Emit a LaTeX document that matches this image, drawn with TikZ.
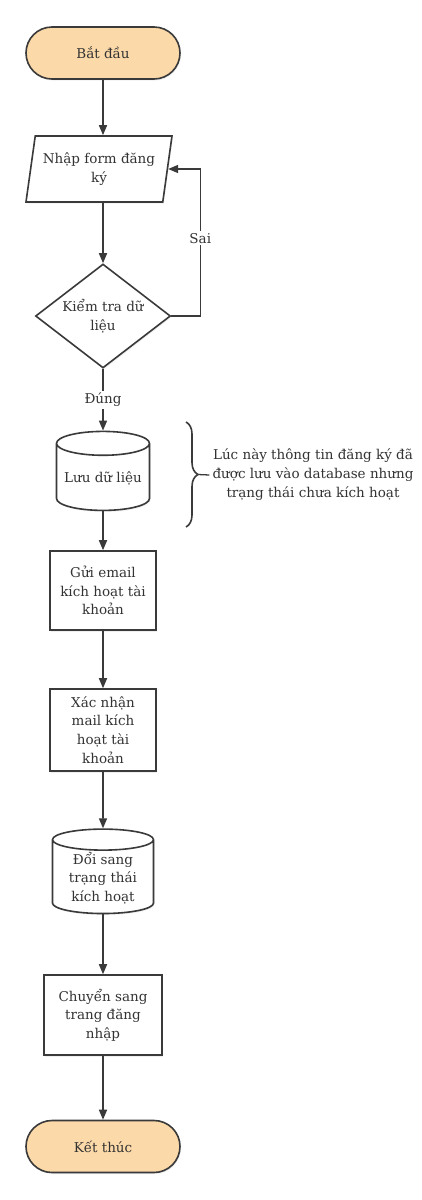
\documentclass[tikz,border=0pt]{standalone}
\usepackage{fontspec}
\setmainfont{DejaVu Serif}
\usetikzlibrary{shapes.geometric,shapes.misc,arrows.meta,decorations.pathreplacing,shadows}
\definecolor{ln}{HTML}{3A3A3A}
\definecolor{tx}{HTML}{333333}
\definecolor{term}{HTML}{FCD9A8}
\tikzset{
  base/.style={draw=ln, line width=1.6pt, text=tx, align=center, inner sep=1pt,
    font=\fontsize{13.5}{18.7}\selectfont,
    drop shadow={opacity=0.12, shadow xshift=1pt, shadow yshift=-1.5pt}},
  termbox/.style={base, rectangle, rounded corners=26pt, fill=term, minimum width=154pt, minimum height=52pt},
  iobox/.style={base, trapezium, trapezium left angle=75, trapezium right angle=105, trapezium stretches body, fill=white, minimum width=146pt, minimum height=66pt},
  decbox/.style={base, diamond, aspect=1.3, inner sep=0pt, fill=white, minimum width=135pt, minimum height=104pt},
  dbbox/.style={base, cylinder, shape border rotate=90, aspect=0.3, fill=white},
  procbox/.style={base, rectangle, fill=white},
  arr/.style={draw=ln, line width=1.6pt, -{Triangle[length=10pt,width=8pt]}},
  lbl/.style={fill=white, text=tx, inner sep=2pt, font=\fontsize{13.5}{18.7}\selectfont},
}
\begin{document}
\begin{tikzpicture}[x=1pt,y=-1pt]
\useasboundingbox[fill=white] (0,0) rectangle (422,1200);
\node[termbox] (start) at (103,53) {Bắt đầu};
\node[iobox] (para) at (99,169) {Nhập form đăng\\ký};
\node[decbox] (dia) at (103,316) {Kiểm tra dữ\\liệu};
\node[dbbox, minimum width=93pt, minimum height=79pt] (db1) at (103,478.5) {Lưu dữ liệu};
\node[procbox, minimum width=106pt, minimum height=79pt] (b1) at (103,590.5) {Gửi email\\kích hoạt tài\\khoản};
\node[procbox, minimum width=106pt, minimum height=82pt] (b2) at (103,730) {Xác nhận\\mail kích\\hoạt tài\\khoản};
\node[dbbox, minimum width=101pt, minimum height=80pt] (db2) at (103,878) {Đổi sang\\trạng thái\\kích hoạt};
\node[procbox, minimum width=118pt, minimum height=80pt] (b3) at (103,1015) {Chuyển sang\\trang đăng\\nhập};
\node[termbox] (end) at (103,1146.5) {Kết thúc};

\node[text=tx, align=center, inner sep=3pt, font=\fontsize{13.5}{19}\selectfont] (note) at (313,475) {Lúc này thông tin đăng ký đã\\được lưu vào database nhưng\\trạng thái chưa kích hoạt};
\coordinate (bt) at (186,422);
\coordinate (bb) at (186,527);
\coordinate (tip) at (198,474.5);
\draw[ln, line width=1.6pt, decorate, decoration={brace, amplitude=12pt}] (bt) -- (bb);
\draw[ln, line width=1.3pt] (tip) -- (note.west);

\draw[arr] (start) -- (start |- para.north);
\draw[arr] (para.south -| start) -- (dia.north);
\draw[arr] (dia.east) -- ++(29,0) |- (para.east) node[lbl, pos=0.265] {Sai};
\draw[arr] (dia.south) -- (db1.north) node[lbl, pos=0.5] {Đúng};
\draw[arr] (db1.south) -- (b1.north);
\draw[arr] (b1) -- (b2);
\draw[arr] (b2) -- (db2.north);
\draw[arr] (db2.south) -- (b3.north);
\draw[arr] (b3) -- (end);
\end{tikzpicture}
\end{document}
